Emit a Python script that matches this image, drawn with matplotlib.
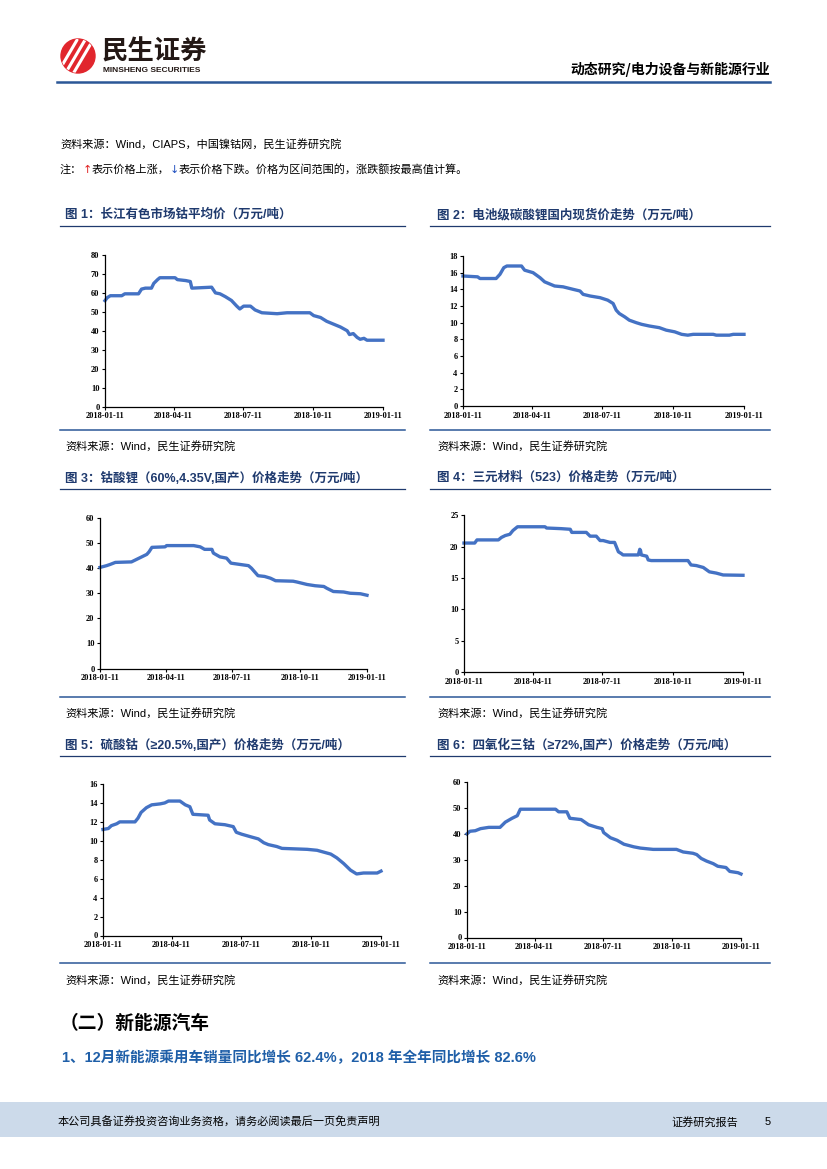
"""
plot.py
-------

Rebuild one page of the Minsheng Securities lithium / cobalt price report.
"""

import numpy as np
import pandas as pd
import matplotlib

matplotlib.use("Agg")

import matplotlib.pyplot as plt
import matplotlib.dates as mdates
from matplotlib.patches import Circle, Rectangle


plt.rcParams["font.family"] = ["Noto Sans CJK SC", "DejaVu Sans"]

# latin first, so digits and signs look like Arial, CJK falls through
MIXED = ["Liberation Sans", "Noto Sans CJK SC"]

W, H = 827, 1169

START = pd.Timestamp("2018-01-11")
END = pd.Timestamp("2019-01-11")
TICK_DATES = ["2018-01-11", "2018-04-11", "2018-07-11", "2018-10-11", "2019-01-11"]

LINE_BLUE = "#4472C4"
TITLE_BLUE = "#1F3A6E"
RULE_BLUE = "#2B5797"

# --------------------------------------------
# Data (days after 2018-01-11, price)
# --------------------------------------------

COBALT_DAYS = [0, 3, 7, 22, 26, 44, 48, 53, 61, 64, 69, 72, 92, 95, 106, 112, 114,
               140, 145, 151, 158, 166, 173, 177, 182, 191, 197, 206, 226, 239, 269,
               274, 283, 291, 300, 309, 318, 321, 326, 331, 335, 340, 344, 365]
COBALT_PRICE = [55.9, 57.5, 58.5, 58.5, 59.5, 59.5, 62, 62.5, 62.5, 65, 67, 68, 68, 67,
                66.5, 66, 62.5, 63, 60, 59.5, 58, 56, 53, 51.5, 53, 53, 51, 49.5, 49,
                49.5, 49.5, 48, 47, 45, 43.5, 42, 40, 38, 38.5, 36.5, 35.5, 36, 35, 35]

LI2CO3_DAYS = [0, 19, 22, 43, 48, 53, 57, 76, 80, 91, 100, 106, 119, 130, 143, 152, 156,
               165, 178, 188, 195, 199, 203, 210, 216, 225, 232, 242, 255, 264, 275, 284,
               292, 299, 325, 329, 346, 351, 365]
LI2CO3_PRICE = [15.6, 15.5, 15.3, 15.3, 15.8, 16.6, 16.8, 16.8, 16.3, 16.0, 15.4, 14.9,
                14.4, 14.3, 14.0, 13.8, 13.4, 13.2, 13.0, 12.7, 12.3, 11.5, 11.1, 10.7,
                10.3, 10.0, 9.8, 9.6, 9.4, 9.1, 8.9, 8.6, 8.5, 8.6, 8.6, 8.5, 8.5, 8.6, 8.6]

LCO_DAYS = [0, 9, 14, 21, 43, 50, 57, 64, 67, 71, 89, 91, 128, 137, 143, 153, 155, 164,
            173, 179, 191, 203, 207, 216, 225, 233, 240, 264, 269, 283, 294, 306, 310,
            319, 333, 342, 356, 365]
LCO_PRICE = [40.3, 41, 41.5, 42.3, 42.5, 43.5, 44.5, 45.5, 46.5, 48.3, 48.5, 49, 49,
             48.5, 47.5, 47.5, 46, 44.5, 44, 42, 41.5, 41, 40, 37, 36.7, 36, 35, 34.8,
             34.5, 33.5, 33, 32.7, 32, 30.7, 30.5, 30, 29.8, 29.2]

NCM_DAYS = [0, 14, 17, 45, 49, 54, 60, 64, 70, 106, 108, 127, 139, 141, 160, 165, 173,
            178, 182, 191, 197, 202, 206, 208, 228, 230, 231, 232, 239, 241, 245, 293,
            297, 304, 313, 321, 330, 339, 365]
NCM_PRICE = [20.6, 20.6, 21.1, 21.1, 21.5, 21.8, 22.0, 22.6, 23.2, 23.2, 23.0, 22.9,
             22.8, 22.3, 22.3, 21.7, 21.7, 21.0, 21.0, 20.7, 20.7, 19.2, 18.9, 18.7,
             18.7, 19.6, 19.4, 18.7, 18.5, 17.9, 17.8, 17.8, 17.1, 17.0, 16.7, 16.0,
             15.8, 15.5, 15.45]

COSO4_DAYS = [0, 7, 11, 18, 22, 42, 46, 50, 57, 64, 75, 81, 86, 101, 108, 114, 118, 138,
              140, 147, 160, 171, 175, 182, 195, 204, 211, 217, 228, 235, 268, 281, 290,
              299, 307, 316, 325, 333, 342, 360, 365]
COSO4_PRICE = [11.2, 11.3, 11.6, 11.8, 12.0, 12.0, 12.4, 13.0, 13.5, 13.8, 13.9, 14.0,
               14.2, 14.2, 13.8, 13.6, 12.8, 12.7, 12.2, 11.8, 11.7, 11.5, 10.9, 10.7,
               10.4, 10.2, 9.8, 9.6, 9.4, 9.2, 9.1, 9.0, 8.8, 8.6, 8.2, 7.6, 6.9, 6.5,
               6.6, 6.6, 6.8]

CO3O4_DAYS = [0, 4, 11, 18, 29, 44, 51, 60, 67, 71, 118, 122, 133, 137, 152, 162, 173,
              180, 182, 191, 200, 209, 222, 231, 248, 279, 288, 301, 306, 312, 319, 328,
              334, 345, 350, 361, 365]
CO3O4_PRICE = [40, 41, 41.2, 42.0, 42.5, 42.5, 44.5, 46, 47, 49.5, 49.5, 48.5, 48.5, 46,
               45.5, 43.5, 42.5, 42, 40.5, 38.5, 37.5, 36, 35, 34.5, 34, 34, 33, 32.5, 32,
               30.5, 29.5, 28.5, 27.5, 27, 25.5, 25, 24.5]

CHART_TITLES = [
    "图 1：长江有色市场钴平均价（万元/吨）",
    "图 2：电池级碳酸锂国内现货价走势（万元/吨）",
    "图 3：钴酸锂（60%,4.35V,国产）价格走势（万元/吨）",
    "图 4：三元材料（523）价格走势（万元/吨）",
    "图 5：硫酸钴（≥20.5%,国产）价格走势（万元/吨）",
    "图 6：四氧化三钴（≥72%,国产）价格走势（万元/吨）",
]

SOURCE_SHORT = "资料来源：Wind，民生证券研究院"
SOURCE_TOP = "资料来源：Wind，CIAPS，中国镍钴网，民生证券研究院"


def draw_chart(fig, box, days, values, ymax, ystep):

    x0, x1, yt, yb = box

    ax = fig.add_axes([x0 / W, 1 - yb / H, (x1 - x0) / W, (yb - yt) / H])

    dates = START + pd.to_timedelta(days, unit="D")

    ax.plot(dates, values, color=LINE_BLUE, lw=2.4,
            solid_joinstyle="round", clip_on=False)

    ax.set_xlim(START, END)
    ax.set_ylim(0, ymax)
    ax.set_yticks(np.arange(0, ymax + ystep / 2, ystep))
    ax.set_xticks(pd.to_datetime(TICK_DATES))
    ax.xaxis.set_major_formatter(mdates.DateFormatter("%Y-%m-%d"))

    for side in ("top", "right"):
        ax.spines[side].set_visible(False)
    for side in ("left", "bottom"):
        ax.spines[side].set_linewidth(0.9)
        ax.spines[side].set_color("black")

    ax.tick_params(length=2.5, width=0.8, labelsize=6, pad=1.5)

    for lab in ax.get_xticklabels() + ax.get_yticklabels():
        lab.set_fontfamily("Liberation Serif")
        lab.set_fontweight("bold")

    return ax


def main():

    fig = plt.figure(figsize=(W / 100, H / 100), dpi=100)

    page = fig.add_axes([0, 0, 1, 1])
    page.set_xlim(0, W)
    page.set_ylim(H, 0)
    page.axis("off")

    # --------------------------------------------
    # Header
    # --------------------------------------------

    logo = Circle((78, 56), 17, color="#E1262D")
    page.add_patch(logo)
    for k in (-9, -1, 7):
        stripe, = page.plot([66 + k, 86 + k], [74, 40], color="white", lw=2.2,
                            solid_capstyle="round")
        stripe.set_clip_path(logo)

    page.text(102, 52, "民生证券", fontsize=19, fontweight="bold",
              color="#231815", va="center")
    page.text(103, 71, "MINSHENG SECURITIES", fontsize=6, fontweight="bold",
              family="Liberation Sans", color="#231815", va="center")
    page.text(770, 69, "动态研究/电力设备与新能源行业", fontsize=10,
              fontweight="bold", ha="right", va="center")

    page.plot([57, 770], [81.5, 81.5], color=RULE_BLUE, lw=1.8)

    # --------------------------------------------
    # Notes above the charts
    # --------------------------------------------

    page.text(60, 144, SOURCE_TOP, fontsize=8, family=MIXED, va="center")

    note = page.text(60, 170, "注：", fontsize=8, va="center")
    pieces = [("↑", "#E02020"), ("表示价格上涨，", "black"), ("↓", "#2050C0"),
              ("表示价格下跌。价格为区间范围的，涨跌额按最高值计算。", "black")]
    prev = note
    for txt, col in pieces:
        fam = ["DejaVu Sans"] if txt in ("↑", "↓") else ["Noto Sans CJK SC"]
        prev = page.annotate(txt, xy=(1, 0), xycoords=prev, fontsize=8,
                             family=fam, color=col, va="bottom", ha="left")

    # --------------------------------------------
    # Chart frames: titles, rules and sources
    # --------------------------------------------

    columns = [(60, 405, 65), (430, 770, 437)]
    rows = [(215, 226, 430, 446), (478, 489, 697, 713), (745, 756, 963, 980)]

    for r, (ty, uy, sy, src_y) in enumerate(rows):
        for c, (lx, rx, tx) in enumerate(columns):
            page.text(tx, ty, CHART_TITLES[r * 2 + c], fontsize=9,
                      fontweight="bold", family=MIXED, color=TITLE_BLUE,
                      va="center")
            page.plot([lx, rx], [uy, uy], color=TITLE_BLUE, lw=0.9)
            page.plot([lx, rx], [sy, sy], color=RULE_BLUE, lw=1.1)
            page.text(tx, src_y, SOURCE_SHORT, fontsize=8, family=MIXED,
                      va="center")

    # --------------------------------------------
    # Charts
    # --------------------------------------------

    draw_chart(fig, (105, 383, 255, 406.5), COBALT_DAYS, COBALT_PRICE, 80, 10)
    draw_chart(fig, (463, 744, 256, 406), LI2CO3_DAYS, LI2CO3_PRICE, 18, 2)
    draw_chart(fig, (100, 367, 518, 668.5), LCO_DAYS, LCO_PRICE, 60, 10)
    draw_chart(fig, (464, 743, 515.5, 672), NCM_DAYS, NCM_PRICE, 25, 5)
    draw_chart(fig, (103, 381, 784, 935.5), COSO4_DAYS, COSO4_PRICE, 16, 2)
    draw_chart(fig, (467, 741, 782, 937.5), CO3O4_DAYS, CO3O4_PRICE, 60, 10)

    # --------------------------------------------
    # Section text
    # --------------------------------------------

    page.text(60, 1023, "（二）新能源汽车", fontsize=13.5, fontweight="bold",
              va="center")
    page.text(62, 1058,
              "1、12月新能源乘用车销量同比增长 62.4%，2018 年全年同比增长 82.6%",
              fontsize=10.5, fontweight="bold", family=MIXED, color="#1F5FA8",
              va="center")

    # --------------------------------------------
    # Footer
    # --------------------------------------------

    page.add_patch(Rectangle((0, 1102), W, 35, color="#CCDAEA", lw=0))
    page.text(58, 1122, "本公司具备证券投资咨询业务资格，请务必阅读最后一页免责声明",
              fontsize=8, va="center")
    page.text(671, 1122, "证券研究报告", fontsize=8, va="center")
    page.text(765, 1122, "5", fontsize=8, family="Liberation Sans", va="center")

    fig.savefig("out.png", dpi=100)
    plt.close(fig)


if __name__ == "__main__":
    main()
